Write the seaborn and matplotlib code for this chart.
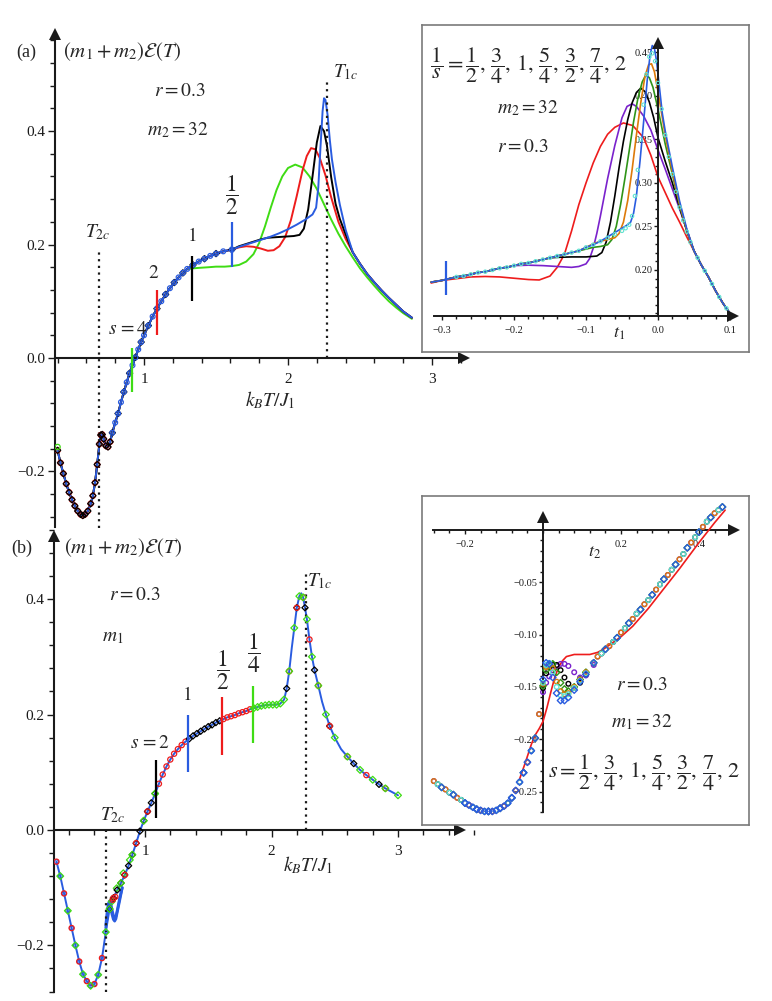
import numpy as np
import matplotlib
matplotlib.use("Agg")
import matplotlib.pyplot as plt
import seaborn as sns
from matplotlib.ticker import MultipleLocator, FixedLocator, StrMethodFormatter

# ---------------- data ----------------
T1C = 2.27
T2C = 0.69

# panel (a): common low-T part, all s
a_T = [0.40, 0.42, 0.44, 0.46, 0.48, 0.50, 0.52, 0.54, 0.56, 0.575, 0.59, 0.61, 0.63, 0.645, 0.66,
       0.675, 0.69, 0.70, 0.71, 0.72, 0.735, 0.75, 0.765, 0.78, 0.80, 0.82, 0.84, 0.86, 0.88, 0.90,
       0.92, 0.94, 0.96, 0.98, 1.00, 1.03, 1.06, 1.09, 1.12, 1.15, 1.18, 1.21, 1.24, 1.27, 1.30,
       1.34, 1.38, 1.42, 1.46, 1.50, 1.55, 1.61]
a_E = [-0.163, -0.185, -0.204, -0.222, -0.237, -0.250, -0.261, -0.270, -0.276, -0.278, -0.276, -0.270,
       -0.257, -0.243, -0.220, -0.188, -0.152, -0.136, -0.135, -0.143, -0.155, -0.157, -0.148, -0.132,
       -0.114, -0.098, -0.078, -0.060, -0.043, -0.027, -0.013, 0.001, 0.015, 0.028, 0.040, 0.057,
       0.073, 0.087, 0.100, 0.112, 0.123, 0.133, 0.142, 0.150, 0.157, 0.164, 0.170, 0.175, 0.180,
       0.184, 0.188, 0.191]
# s = 4 (green) leaves the common curve after T = 1.30
ag_T = [1.34, 1.39, 1.45, 1.50, 1.56, 1.61, 1.66, 1.71, 1.76, 1.80, 1.84, 1.88, 1.92, 1.96, 2.00, 2.05,
        2.10, 2.15, 2.20, 2.25, 2.30, 2.35, 2.40, 2.45, 2.50, 2.55, 2.60, 2.65, 2.70, 2.75, 2.80, 2.86]
ag_E = [0.158, 0.159, 0.160, 0.161, 0.161, 0.162, 0.164, 0.170, 0.183, 0.203, 0.232, 0.265, 0.296,
        0.320, 0.335, 0.341, 0.336, 0.320, 0.298, 0.271, 0.244, 0.219, 0.197, 0.177, 0.158, 0.142,
        0.127, 0.113, 0.100, 0.089, 0.079, 0.069]
# s = 2 (red)
ar_T = [1.66, 1.71, 1.76, 1.81, 1.86, 1.90, 1.94, 1.98, 2.02, 2.06, 2.10, 2.13, 2.16, 2.19, 2.22, 2.26,
        2.30, 2.35, 2.40]
ar_E = [0.195, 0.197, 0.196, 0.193, 0.189, 0.190, 0.197, 0.213, 0.243, 0.285, 0.330, 0.356, 0.370,
        0.368, 0.353, 0.322, 0.283, 0.240, 0.210]
# s = 1 (black)
ak_T = [1.66, 1.71, 1.76, 1.81, 1.86, 1.92, 1.98, 2.04, 2.08, 2.11, 2.14, 2.17, 2.20, 2.225, 2.25,
        2.27, 2.30, 2.33, 2.36, 2.40]
ak_E = [0.197, 0.201, 0.205, 0.209, 0.212, 0.213, 0.214, 0.215, 0.217, 0.228, 0.262, 0.320, 0.380,
        0.409, 0.400, 0.375, 0.318, 0.272, 0.245, 0.218]
# s = 1/2 (blue)
ab_T = [1.66, 1.71, 1.76, 1.82, 1.88, 1.94, 2.00, 2.06, 2.12, 2.17, 2.195, 2.21, 2.225, 2.24, 2.25,
        2.26, 2.275, 2.29, 2.305, 2.33, 2.36, 2.40]
ab_E = [0.196, 0.200, 0.204, 0.209, 0.214, 0.220, 0.227, 0.235, 0.244, 0.253, 0.265, 0.300, 0.370,
        0.435, 0.458, 0.455, 0.428, 0.385, 0.350, 0.310, 0.270, 0.226]
a_tail_T = [2.45, 2.50, 2.55, 2.60, 2.65, 2.70, 2.75, 2.80, 2.86]
a_tail_E = [0.186, 0.166, 0.148, 0.133, 0.119, 0.106, 0.094, 0.082, 0.071]
# crossover marks in (a)
a_s_T = [0.92, 1.09, 1.33, 1.61]
a_s_lo = [-0.06, 0.04, 0.10, 0.16]
a_s_hi = [0.018, 0.12, 0.18, 0.24]

# panel (b): all curves collapse
b_T = [0.30, 0.33, 0.36, 0.39, 0.42, 0.45, 0.48, 0.51, 0.54, 0.57, 0.60, 0.63, 0.66, 0.69, 0.72,
       0.75, 0.78, 0.81, 0.84, 0.87, 0.90, 0.93, 0.96, 0.99, 1.02, 1.05, 1.08, 1.11, 1.14, 1.17,
       1.20, 1.23, 1.26, 1.29, 1.32, 1.35, 1.38, 1.41, 1.44, 1.47, 1.50, 1.53, 1.56, 1.59, 1.62,
       1.65, 1.68, 1.71, 1.74, 1.77, 1.80, 1.83, 1.86, 1.89, 1.92, 1.95, 1.98, 2.01, 2.04, 2.07,
       2.10, 2.12, 2.14, 2.16, 2.18, 2.20, 2.22, 2.235, 2.25, 2.265, 2.28, 2.30, 2.32, 2.34, 2.37,
       2.40, 2.43, 2.46, 2.50, 2.55, 2.60, 2.65, 2.70, 2.75, 2.80, 2.85, 2.90, 2.95, 3.00]
b_E = [-0.055, -0.080, -0.110, -0.140, -0.170, -0.200, -0.228, -0.250, -0.262, -0.270, -0.267, -0.251,
       -0.222, -0.177, -0.137, -0.118, -0.104, -0.092, -0.078, -0.062, -0.043, -0.023, -0.002, 0.016,
       0.032, 0.047, 0.063, 0.080, 0.096, 0.110, 0.122, 0.132, 0.140, 0.147, 0.153, 0.158, 0.163,
       0.167, 0.171, 0.175, 0.179, 0.182, 0.186, 0.189, 0.192, 0.195, 0.197, 0.199, 0.202, 0.204,
       0.206, 0.209, 0.211, 0.213, 0.215, 0.216, 0.217, 0.217, 0.217, 0.219, 0.226, 0.245, 0.275,
       0.315, 0.350, 0.385, 0.405, 0.410, 0.403, 0.385, 0.365, 0.330, 0.300, 0.277, 0.250, 0.222,
       0.200, 0.180, 0.160, 0.140, 0.127, 0.115, 0.104, 0.095, 0.087, 0.079, 0.072, 0.066, 0.060]
# blue bump near T2c in (b)
bb_T = [0.69, 0.70, 0.71, 0.72, 0.73, 0.74, 0.75, 0.76, 0.77, 0.78, 0.80, 0.82]
bb_E1 = [-0.165, -0.143, -0.128, -0.123, -0.128, -0.139, -0.148, -0.152, -0.150, -0.140, -0.118, -0.100]
bb_E2 = [-0.170, -0.152, -0.138, -0.133, -0.138, -0.147, -0.155, -0.158, -0.154, -0.143, -0.122, -0.100]
bg_T = [0.737, 0.776, 0.829, 0.88]
bg_E = [-0.124, -0.101, -0.075, -0.052]
br_T = [0.745, 0.765]
br_E = [-0.121, -0.116]
b_s_T = [1.09, 1.34, 1.61, 1.85]
b_s_lo = [0.021, 0.10, 0.13, 0.15]
b_s_hi = [0.121, 0.20, 0.23, 0.25]

# inset (a): E versus t1
ia_com_t = [-0.315, -0.30, -0.29, -0.28, -0.27, -0.26, -0.25, -0.24, -0.23, -0.22, -0.21, -0.20, -0.19,
            -0.18, -0.17, -0.16, -0.15, -0.14, -0.13, -0.12, -0.11, -0.10, -0.09, -0.08, -0.07, -0.06, -0.05]
ia_com_v = [0.186, 0.188, 0.190, 0.192, 0.193, 0.195, 0.197, 0.198, 0.200, 0.202, 0.203, 0.205, 0.207,
            0.208, 0.210, 0.212, 0.214, 0.216, 0.218, 0.220, 0.222, 0.226, 0.229, 0.233, 0.237, 0.241, 0.245]
ia_tail_t = [0.05, 0.06, 0.07, 0.08, 0.09, 0.10]
ia_tail_v = [0.222, 0.206, 0.192, 0.176, 0.162, 0.150]
iar_t = [-0.315, -0.30, -0.28, -0.26, -0.24, -0.22, -0.20, -0.18, -0.165, -0.15, -0.14, -0.13, -0.12,
         -0.11, -0.10, -0.09, -0.08, -0.07, -0.06, -0.048, -0.035, -0.02, -0.01, 0.0, 0.01, 0.02, 0.03, 0.04]
iar_v = [0.185, 0.188, 0.190, 0.192, 0.1925, 0.192, 0.1905, 0.189, 0.1885, 0.193, 0.203, 0.218, 0.245,
         0.275, 0.300, 0.323, 0.342, 0.356, 0.364, 0.369, 0.366, 0.352, 0.332, 0.307, 0.289, 0.271, 0.255, 0.238]
iap_t = [-0.18, -0.16, -0.14, -0.12, -0.11, -0.10, -0.095, -0.09, -0.085, -0.08, -0.07, -0.06, -0.05,
         -0.043, -0.036, -0.03, -0.02, -0.01, 0.0, 0.01, 0.02, 0.03, 0.04]
iap_v = [0.2055, 0.205, 0.204, 0.203, 0.204, 0.207, 0.213, 0.225, 0.242, 0.262, 0.305, 0.343, 0.375,
         0.388, 0.391, 0.388, 0.377, 0.361, 0.338, 0.316, 0.293, 0.270, 0.246]
iak_t = [-0.14, -0.12, -0.10, -0.085, -0.078, -0.072, -0.066, -0.06, -0.054, -0.048, -0.042, -0.036,
         -0.03, -0.024, -0.018, -0.012, -0.006, 0.0, 0.01, 0.02, 0.03, 0.04]
iak_v = [0.2145, 0.215, 0.215, 0.216, 0.220, 0.232, 0.255, 0.285, 0.318, 0.348, 0.373, 0.392, 0.404,
         0.409, 0.405, 0.393, 0.375, 0.352, 0.325, 0.300, 0.272, 0.245]
iag_t = [-0.11, -0.10, -0.09, -0.08, -0.07, -0.064, -0.058, -0.052, -0.046, -0.04, -0.034, -0.028,
         -0.022, -0.017, -0.012, -0.007, 0.0, 0.01, 0.02, 0.03, 0.04]
iag_v = [0.222, 0.224, 0.226, 0.227, 0.229, 0.235, 0.250, 0.275, 0.305, 0.337, 0.370, 0.397, 0.416,
         0.424, 0.421, 0.410, 0.385, 0.345, 0.310, 0.274, 0.245]
iao_t = [-0.09, -0.08, -0.07, -0.06, -0.054, -0.048, -0.042, -0.036, -0.03, -0.024, -0.018, -0.013,
         -0.009, -0.005, 0.0, 0.01, 0.02, 0.03, 0.04]
iao_v = [0.230, 0.233, 0.235, 0.237, 0.242, 0.255, 0.280, 0.315, 0.355, 0.392, 0.423, 0.436, 0.437,
         0.428, 0.405, 0.355, 0.313, 0.276, 0.246]
iab_t = [-0.07, -0.06, -0.05, -0.044, -0.038, -0.034, -0.03, -0.025, -0.02, -0.015, -0.011, -0.008,
         -0.005, -0.002, 0.002, 0.006, 0.01, 0.02, 0.03, 0.04]
iab_v = [0.238, 0.243, 0.248, 0.251, 0.255, 0.265, 0.285, 0.325, 0.370, 0.418, 0.447, 0.458, 0.455,
         0.440, 0.410, 0.380, 0.360, 0.318, 0.279, 0.247]
iac_t = [-0.045, -0.04, -0.036, -0.032, -0.028, -0.024, -0.02, -0.016, -0.012, -0.008, -0.004, 0.0,
         0.005, 0.01, 0.015, 0.02, 0.025, 0.03, 0.035, 0.04, 0.045, 0.055, 0.065, 0.075, 0.085, 0.095]
iac_v = [0.248, 0.252, 0.262, 0.285, 0.315, 0.350, 0.390, 0.425, 0.445, 0.449, 0.440, 0.415, 0.385,
         0.355, 0.330, 0.310, 0.290, 0.272, 0.257, 0.244, 0.232, 0.214, 0.199, 0.184, 0.169, 0.156]
ia_mark_t = [-0.294]
ia_mark_lo = [0.171]
ia_mark_hi = [0.210]

# inset (b): E versus t2
ib_left_t = [-0.28, -0.27, -0.26, -0.25, -0.24, -0.23, -0.22, -0.21, -0.20, -0.19, -0.18, -0.17, -0.16,
             -0.15, -0.14, -0.13, -0.12, -0.11, -0.10, -0.09, -0.08, -0.07, -0.06, -0.05, -0.04, -0.03,
             -0.02, -0.01]
ib_left_v = [-0.240, -0.243, -0.246, -0.248, -0.251, -0.253, -0.256, -0.258, -0.261, -0.263, -0.265,
             -0.267, -0.268, -0.269, -0.269, -0.269, -0.268, -0.266, -0.264, -0.261, -0.256, -0.249,
             -0.241, -0.232, -0.222, -0.211, -0.199, -0.176]
ib_bump_t = [0.0, 0.008, 0.016, 0.025, 0.035, 0.045, 0.055, 0.065, 0.08, 0.095, 0.11, 0.13]
ib_bump_purple = [-0.155, -0.146, -0.140, -0.134, -0.130, -0.128, -0.128, -0.130, -0.136, -0.141, -0.139, -0.129]
ib_bump_black = [-0.151, -0.137, -0.131, -0.129, -0.129, -0.134, -0.141, -0.147, -0.151, -0.146, -0.138, -0.127]
ib_bump_green = [-0.149, -0.134, -0.129, -0.128, -0.136, -0.146, -0.152, -0.154, -0.150, -0.143, -0.136, -0.127]
ib_bump_orange = [-0.147, -0.131, -0.128, -0.132, -0.145, -0.154, -0.157, -0.156, -0.150, -0.143, -0.136, -0.127]
ib_bump_cyan = [-0.146, -0.129, -0.127, -0.136, -0.150, -0.158, -0.159, -0.157, -0.151, -0.144, -0.137, -0.127]
ib_bump_blue = [-0.143, -0.127, -0.128, -0.141, -0.156, -0.163, -0.163, -0.160, -0.153, -0.145, -0.138, -0.127]
ib_right_t = [0.14, 0.15, 0.16, 0.17, 0.18, 0.19, 0.20, 0.21, 0.22, 0.23, 0.24, 0.25, 0.26, 0.27, 0.28,
              0.29, 0.30, 0.31, 0.32, 0.33, 0.34, 0.35, 0.36, 0.37, 0.38, 0.39, 0.40, 0.41, 0.42, 0.43,
              0.44, 0.45, 0.46]
ib_right_v = [-0.121, -0.118, -0.114, -0.111, -0.107, -0.103, -0.098, -0.094, -0.089, -0.085, -0.080,
              -0.076, -0.071, -0.067, -0.062, -0.057, -0.052, -0.047, -0.043, -0.038, -0.033, -0.028,
              -0.023, -0.017, -0.012, -0.007, -0.002, 0.003, 0.008, 0.012, 0.016, 0.019, 0.022]
ibr_t = [-0.06, -0.045, -0.03, -0.02, -0.01, 0.0, 0.01, 0.02, 0.03, 0.04, 0.05, 0.06, 0.08, 0.10, 0.12,
         0.14, 0.155, 0.17, 0.20, 0.23, 0.27, 0.31, 0.35, 0.40, 0.44, 0.467]
ibr_v = [-0.238, -0.222, -0.205, -0.196, -0.190, -0.183, -0.170, -0.155, -0.141, -0.131, -0.125, -0.121,
         -0.119, -0.119, -0.119, -0.117, -0.114, -0.110, -0.102, -0.092, -0.075, -0.056, -0.037, -0.012,
         0.007, 0.019]

# ---------------- style ----------------
sns.set_theme(style="white")
plt.rcParams["font.family"] = ["Liberation Serif", "DejaVu Serif"]
plt.rcParams["mathtext.fontset"] = "stix"

GREEN = "#3fdc14"
RED = "#ee1c1c"
BLUE = "#2a5ce0"
BLACK = "#000000"
PURPLE = "#7a22cc"
ORANGE = "#dd7a0a"
DKGREEN = "#2f9418"
CYAN = "#5fe3d2"

W, H = 772, 1001
fig = plt.figure(figsize=(W / 100, H / 100), dpi=100)


def px_axes(x0, y0, x1, y1, z=1):
    return fig.add_axes([x0 / W, 1 - y1 / H, (x1 - x0) / W, (y1 - y0) / H], zorder=z)


def maple_axes(ax, xpos, ypos, xb, yb, ms=9, lw=1.5, big=11, small=3.5):
    ax.patch.set_alpha(0)
    for s in ("top", "right"):
        ax.spines[s].set_visible(False)
    ax.spines["left"].set_position(("data", xpos))
    ax.spines["bottom"].set_position(("data", ypos))
    ax.spines["left"].set_bounds(*yb)
    ax.spines["bottom"].set_bounds(*xb)
    for s in ("left", "bottom"):
        ax.spines[s].set_linewidth(lw)
        ax.spines[s].set_color("k")
    ax.plot([xb[1]], [ypos], marker=">", ms=ms, color="k", mew=0, clip_on=False)
    ax.plot([xpos], [yb[1]], marker="^", ms=ms, color="k", mew=0, clip_on=False)
    ax.tick_params(which="both", direction="out", bottom=True, left=True, colors="k", width=1.0)
    ax.tick_params(which="major", length=5, labelsize=big, pad=2)
    ax.tick_params(which="minor", length=small)
    ax.set_xlabel("")
    ax.set_ylabel("")


def line(ax, x, y, c, lw=1.4, z=2):
    sns.lineplot(x=x, y=y, ax=ax, color=c, lw=lw, sort=False, estimator=None, zorder=z)


def dots(ax, x, y, c, m="o", s=12, lw=0.9, z=4):
    sns.scatterplot(x=x, y=y, ax=ax, marker=m, s=s, facecolor="none", edgecolor=c,
                    linewidth=lw, zorder=z)


def ftext(x, y, s, size=13, ha="center", va="center"):
    fig.text(x / W, 1 - y / H, s, fontsize=size, ha=ha, va=va)


FRAC = 17  # size of the stand-alone fraction labels
LIST = 16  # size of the 1/s = ... lists in the insets

# ---------------- panel (a) ----------------
axa = px_axes(55, 20, 480, 532)
axa.set_xlim(0.382, 3.333)
axa.set_ylim(-0.307, 0.596)
ig = a_T.index(1.30) + 1
line(axa, a_T[:ig] + ag_T, a_E[:ig] + ag_E, GREEN)
line(axa, a_T + ar_T + a_tail_T, a_E + ar_E + a_tail_E, RED)
line(axa, a_T + ak_T + a_tail_T, a_E + ak_E + a_tail_E, BLACK)
line(axa, a_T + ab_T + a_tail_T, a_E + ab_E + a_tail_E, BLUE)
lowT = np.array(a_T)
lowE = np.array(a_E)
lo = lowT <= 0.77
dots(axa, lowT[lo], lowE[lo], RED, "o", s=14)
dots(axa, lowT[lo], lowE[lo], BLACK, "D", s=10)
dots(axa, lowT[:1], lowE[:1] + 0.006, GREEN, "o", s=14)
mid = lowT > 0.77
dots(axa, lowT[mid][::2], lowE[mid][::2], BLACK, "D", s=10)
dots(axa, lowT[mid], lowE[mid], BLUE, "o", s=12)
axa.vlines(a_s_T, a_s_lo, a_s_hi, colors=[GREEN, RED, BLACK, BLUE], lw=1.6, zorder=5)
axa.plot([T1C, T1C], [0, 0.492], ls=(0, (1, 2)), lw=1.6, color="k")
axa.plot([T2C, T2C], [-0.30, 0.194], ls=(0, (1, 2)), lw=1.6, color="k")
maple_axes(axa, 0.382, 0.0, (0.382, 3.22), (-0.298, 0.572))
axa.xaxis.set_major_locator(FixedLocator([1, 2, 3]))
axa.xaxis.set_major_formatter(StrMethodFormatter("{x:.0f}"))
axa.xaxis.set_minor_locator(MultipleLocator(0.2))
axa.yaxis.set_major_locator(FixedLocator([-0.2, 0.0, 0.2, 0.4]))
axa.yaxis.set_major_formatter(StrMethodFormatter("{x:.1f}"))
axa.yaxis.set_minor_locator(MultipleLocator(0.04))
axa.tick_params(axis="x", pad=6)

ftext(26, 52, "(a)", 13)
ftext(63, 52, r"$(m_1+m_2)\mathcal{E}(T)$", 15, ha="left")
ftext(180, 92, r"$r=0.3$", 14)
ftext(178, 130, r"$m_2=32$", 14)
ftext(333, 72, r"$T_{1c}$", 14, ha="left")
ftext(98, 232, r"$T_{2c}$", 14)
ftext(270, 400, r"$k_BT/J_1$", 14)
ftext(128, 330, r"$s\,=4$", 14)
ftext(154, 273, r"$2$", 14)
ftext(192, 236, r"$1$", 14)
ftext(232, 195, r"$\dfrac{1}{2}$", FRAC)

# ---------------- inset (a) ----------------
boxa = px_axes(422, 25, 749, 352, z=2)
boxa.set_xticks([])
boxa.set_yticks([])
for s in boxa.spines.values():
    s.set_visible(True)
    s.set_color("#7a7a7a")
    s.set_linewidth(1.2)
boxa.set_facecolor("white")

ina = px_axes(422, 25, 749, 352, z=2.5)
ina.set_xlim(-0.3278, 0.1264)
ina.set_ylim(0.1057, 0.4816)
line(ina, iar_t + ia_tail_t, iar_v + ia_tail_v, RED, lw=1.2)
i = ia_com_t.index(-0.20) + 1
line(ina, ia_com_t[:i] + iap_t + ia_tail_t, ia_com_v[:i] + iap_v + ia_tail_v, PURPLE, lw=1.2)
i = ia_com_t.index(-0.15) + 1
line(ina, ia_com_t[:i] + iak_t + ia_tail_t, ia_com_v[:i] + iak_v + ia_tail_v, BLACK, lw=1.2)
i = ia_com_t.index(-0.12) + 1
line(ina, ia_com_t[:i] + iag_t + ia_tail_t, ia_com_v[:i] + iag_v + ia_tail_v, DKGREEN, lw=1.2)
i = ia_com_t.index(-0.10) + 1
line(ina, ia_com_t[:i] + iao_t + ia_tail_t, ia_com_v[:i] + iao_v + ia_tail_v, ORANGE, lw=1.2)
i = ia_com_t.index(-0.08) + 1
line(ina, ia_com_t[:i] + iab_t + ia_tail_t, ia_com_v[:i] + iab_v + ia_tail_v, BLUE, lw=1.2)
dots(ina, ia_com_t[3:] + iac_t, ia_com_v[3:] + iac_v, CYAN, "o", s=6, lw=0.8)
ina.vlines(ia_mark_t, ia_mark_lo, ia_mark_hi, colors=BLUE, lw=1.6, zorder=5)
maple_axes(ina, 0.0, 0.147, (-0.311, 0.104), (0.147, 0.461), ms=8, lw=1.4, big=7.5, small=2.5)
ina.xaxis.set_major_locator(FixedLocator([-0.3, -0.2, -0.1, 0.0, 0.1]))
ina.xaxis.set_major_formatter(StrMethodFormatter("{x:.1f}"))
ina.set_xticks([x for x in np.arange(-0.30, 0.105, 0.02)], minor=True)
ina.yaxis.set_major_locator(FixedLocator([0.20, 0.25, 0.30, 0.35, 0.40, 0.45]))
ina.yaxis.set_major_formatter(StrMethodFormatter("{x:.2f}"))
ina.set_yticks([y for y in np.arange(0.15, 0.455, 0.01)], minor=True)
ina.tick_params(which="major", length=3, pad=4)
ina.tick_params(axis="y", which="major", pad=1)

ftext(430, 66, r"$\dfrac{1}{s}=\dfrac{1}{2},\,\dfrac{3}{4},\,1,\,\dfrac{5}{4},\,\dfrac{3}{2},\,\dfrac{7}{4},\,2$",
      LIST, ha="left")
ftext(528, 108, r"$m_2=32$", 14)
ftext(523, 148, r"$r=0.3$", 14)
ftext(619, 333, r"$t_1$", 13)

# ---------------- panel (b) ----------------
axb = px_axes(54, 520, 485, 995)
axb.set_xlim(0.2806, 3.6877)
axb.set_ylim(-0.286, 0.537)
line(axb, b_T, b_E, BLUE, lw=1.4)
line(axb, bb_T, bb_E1, BLUE, lw=2.0)
line(axb, bb_T, bb_E2, BLUE, lw=2.0)
bT = np.array(b_T)
bE = np.array(b_E)
seg = bT <= 0.69
dots(axb, bT[seg], bE[seg], BLUE, "o", s=8)
dots(axb, bT[seg][::2], bE[seg][::2], RED, "o", s=14)
dots(axb, bT[seg][1::2], bE[seg][1::2], GREEN, "D", s=12)
dots(axb, bb_T, bb_E1, BLUE, "+", s=14)
dots(axb, bb_T, bb_E2, BLUE, "+", s=14)
dots(axb, bg_T, bg_E, GREEN, "D", s=12)
dots(axb, br_T, br_E, RED, "o", s=14)
seg = (bT > 0.70) & (bT < 1.10)
dots(axb, bT[seg], bE[seg], BLACK, "D", s=10)
dots(axb, bT[seg][::3], bE[seg][::3], GREEN, "D", s=12)
dots(axb, bT[seg][1::3], bE[seg][1::3], RED, "o", s=14)
seg = (bT > 1.10) & (bT < 1.34)
dots(axb, bT[seg], bE[seg], RED, "o", s=14)
seg = (bT > 1.34) & (bT < 1.61)
dots(axb, bT[seg], bE[seg], BLACK, "D", s=10)
seg = (bT > 1.61) & (bT < 1.85)
dots(axb, bT[seg], bE[seg], RED, "o", s=14)
seg = (bT > 1.85) & (bT < 2.09)
dots(axb, bT[seg], bE[seg], GREEN, "D", s=12)
seg = bT > 2.09
dots(axb, bT[seg][1::4], bE[seg][1::4], BLACK, "D", s=10)
dots(axb, bT[seg][2::3], bE[seg][2::3], RED, "o", s=14)
dots(axb, bT[seg][::2], bE[seg][::2], GREEN, "D", s=12)
axb.vlines(b_s_T, b_s_lo, b_s_hi, colors=[BLACK, BLUE, RED, GREEN], lw=1.6, zorder=5)
axb.plot([T1C, T1C], [0, 0.45], ls=(0, (1, 2)), lw=1.6, color="k")
axb.plot([T2C, T2C], [-0.28, 0.0], ls=(0, (1, 2)), lw=1.6, color="k")
maple_axes(axb, 0.2806, 0.0, (0.2806, 3.49), (-0.28, 0.51))
axb.xaxis.set_major_locator(FixedLocator([1, 2, 3]))
axb.xaxis.set_major_formatter(StrMethodFormatter("{x:.0f}"))
axb.xaxis.set_minor_locator(MultipleLocator(0.2))
axb.yaxis.set_major_locator(FixedLocator([-0.2, 0.0, 0.2, 0.4]))
axb.yaxis.set_major_formatter(StrMethodFormatter("{x:.1f}"))
axb.yaxis.set_minor_locator(MultipleLocator(0.04))
axb.tick_params(axis="x", pad=6)

ftext(22, 548, "(b)", 13)
ftext(64, 548, r"$(m_1+m_2)\mathcal{E}(T)$", 15, ha="left")
ftext(135, 595, r"$r=0.3$", 14)
ftext(113, 637, r"$m_1$", 14)
ftext(307, 581, r"$T_{1c}$", 14, ha="left")
ftext(113, 815, r"$T_{2c}$", 14)
ftext(308, 865, r"$k_BT/J_1$", 14)
ftext(150, 743, r"$s\,=2$", 14)
ftext(187, 695, r"$1$", 14)
ftext(223, 670, r"$\dfrac{1}{2}$", FRAC)
ftext(254, 653, r"$\dfrac{1}{4}$", FRAC)

# ---------------- inset (b) ----------------
boxb = px_axes(422, 496, 749, 825, z=2)
boxb.set_xticks([])
boxb.set_yticks([])
for s in boxb.spines.values():
    s.set_visible(True)
    s.set_color("#7a7a7a")
    s.set_linewidth(1.2)
boxb.set_facecolor("white")

inb = px_axes(422, 496, 749, 825, z=2.5)
inb.set_xlim(-0.3103, 0.5282)
inb.set_ylim(-0.282, 0.0325)
line(inb, ibr_t, ibr_v, RED, lw=1.2, z=3)
series = [(ib_bump_purple, PURPLE, "o"), (ib_bump_black, BLACK, "o"), (ib_bump_green, DKGREEN, "D"),
          (ib_bump_orange, ORANGE, "o"), (ib_bump_cyan, CYAN, "o"), (ib_bump_blue, BLUE, "D")]
for k, (bv, c, m) in enumerate(series):
    dots(inb, ib_left_t[k % 3::3] + ib_bump_t + ib_right_t[k % 3::3],
         ib_left_v[k % 3::3] + bv + ib_right_v[k % 3::3], c, m, s=11, lw=1.0)
dots(inb, ib_left_t[8:26], ib_left_v[8:26], BLUE, "D", s=11, lw=1.0)
maple_axes(inb, 0.0, 0.0, (-0.282, 0.49), (-0.27, 0.012), ms=8, lw=1.4, big=7.5, small=2.5)
inb.xaxis.set_major_locator(FixedLocator([-0.2, 0.2, 0.4]))
inb.xaxis.set_major_formatter(StrMethodFormatter("{x:.1f}"))
inb.set_xticks([x for x in np.arange(-0.28, 0.49, 0.04)], minor=True)
inb.yaxis.set_major_locator(FixedLocator([-0.25, -0.20, -0.15, -0.10, -0.05]))
inb.yaxis.set_major_formatter(StrMethodFormatter("{x:.2f}"))
inb.set_yticks([y for y in np.arange(-0.27, 0.0, 0.01)], minor=True)
inb.tick_params(which="major", length=3, pad=4)
inb.tick_params(axis="y", which="major", pad=1)

ftext(595, 553, r"$t_2$", 13)
ftext(642, 685, r"$r=0.3$", 14)
ftext(642, 722, r"$m_1=32$", 14)
ftext(548, 773, r"$s=\dfrac{1}{2},\,\dfrac{3}{4},\,1,\,\dfrac{5}{4},\,\dfrac{3}{2},\,\dfrac{7}{4},\,2$",
      LIST, ha="left")

fig.savefig("out.png", dpi=100)
